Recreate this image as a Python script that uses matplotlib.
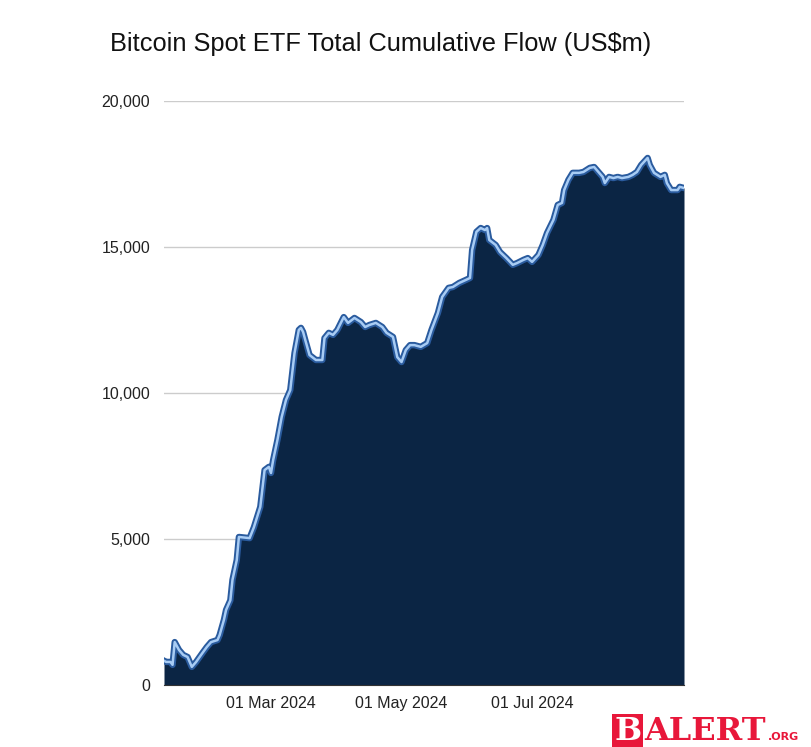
import numpy as np
import pandas as pd
import matplotlib
matplotlib.use("Agg")
import matplotlib.pyplot as plt
import matplotlib.dates as mdates
from matplotlib.ticker import FuncFormatter

plt.rcParams["font.family"] = ["Liberation Sans", "DejaVu Sans"]

# cumulative net flow (US$m)
dates = [
    "01-11", "01-12", "01-14", "01-15", "01-16", "01-18", "01-20", "01-22",
    "01-24", "01-26", "01-29", "01-31", "02-02", "02-05", "02-06", "02-08",
    "02-09", "02-11", "02-12", "02-14", "02-15", "02-20", "02-22", "02-25",
    "02-27", "02-29", "03-01", "03-02", "03-04", "03-06", "03-08", "03-10",
    "03-12", "03-14", "03-15", "03-16", "03-17", "03-19", "03-22", "03-25",
    "03-26", "03-28", "03-30", "04-01", "04-04", "04-06", "04-09", "04-12",
    "04-14", "04-16", "04-19", "04-22", "04-24", "04-27", "04-29", "05-01",
    "05-03", "05-05", "05-07", "05-10", "05-13", "05-15", "05-18", "05-20",
    "05-23", "05-25", "05-28", "05-31", "06-02", "06-03", "06-05", "06-07",
    "06-09", "06-10", "06-11", "06-14", "06-16", "06-19", "06-22", "06-24",
    "06-27", "06-29", "07-01", "07-04", "07-06", "07-08", "07-11", "07-13",
    "07-15", "07-16", "07-18", "07-20", "07-23", "07-25", "07-28", "07-30",
    "08-01", "08-03", "08-04", "08-06", "08-08", "08-10", "08-12", "08-15",
    "08-17", "08-19", "08-21", "08-24", "08-25", "08-27", "08-30", "09-01",
    "09-02", "09-04", "09-07", "09-08", "09-10",
]
flow = [
    830, 790, 790, 690, 1470, 1200, 1030, 960,
    620, 790, 1100, 1300, 1470, 1540, 1710, 2230,
    2570, 2900, 3600, 4280, 5070, 5030, 5400, 6100,
    7360, 7470, 7260, 7700, 8390, 9180, 9760, 10100,
    11370, 12160, 12230, 12090, 11820, 11300, 11130, 11130,
    11880, 12060, 11990, 12160, 12600, 12400, 12570, 12430,
    12260, 12330, 12400, 12260, 12060, 11920, 11230, 11060,
    11470, 11640, 11640, 11580, 11710, 12160, 12740, 13290,
    13600, 13630, 13770, 13870, 13940, 14900, 15520, 15650,
    15580, 15650, 15240, 15070, 14830, 14620, 14390, 14450,
    14560, 14620, 14490, 14730, 15070, 15480, 15930, 16440,
    16510, 16950, 17300, 17540, 17540, 17570, 17710, 17740,
    17570, 17400, 17190, 17400, 17360, 17400, 17360, 17400,
    17470, 17570, 17810, 18050, 17810, 17540, 17400, 17470,
    17190, 16950, 16950, 17060, 17020,
]
yticks = [0, 5000, 10000, 15000, 20000]

t = pd.to_datetime(["2024-" + d for d in dates])
v = np.array(flow)

navy = "#0b2544"
mid = "#2a5b9e"
light = "#a8ccf4"

fig = plt.figure(figsize=(8.11, 7.47), dpi=100)
ax = fig.add_axes([164/811, 1 - 685/747, 520/811, 584/747])

ax.fill_between(t, v, 0, color=navy, lw=0, zorder=2)
ax.plot(t, v, color=mid, lw=4.6, solid_joinstyle="round", zorder=3)
ax.plot(t, v, color=light, lw=1.8, solid_joinstyle="round", zorder=4)

ax.set_xlim(t[0], t[-1])
ax.set_ylim(0, 20000)
ax.set_yticks(yticks)
ax.yaxis.set_major_formatter(FuncFormatter(lambda y, p: "{:,.0f}".format(y)))
ax.xaxis.set_major_locator(mdates.MonthLocator(bymonth=[3, 5, 7], bymonthday=1))
ax.xaxis.set_major_formatter(mdates.DateFormatter("%d %b %Y"))
ax.grid(axis="y", color="#cccccc", lw=1, zorder=1)
ax.set_axisbelow(True)
ax.tick_params(length=0, labelsize=11.5, colors="#222222")
ax.tick_params(axis="y", pad=10)
ax.tick_params(axis="x", pad=8)
for s in ["left", "right", "top"]:
    ax.spines[s].set_visible(False)
ax.spines["bottom"].set_color("#333333")
ax.spines["bottom"].set_zorder(5)

fig.text(110/811, 1 - 44/747, r"Bitcoin Spot ETF Total Cumulative Flow (US\$m)",
         ha="left", va="center", fontsize=18.3, color="#111111")

# watermark
red = "#e8173a"
fig.text(614/811, 1 - 731/747, "B", ha="left", va="center", fontsize=23,
         fontweight="bold", family="DejaVu Serif", color="white",
         bbox=dict(boxstyle="square,pad=0.06", fc=red, ec="none"))
fig.text(644/811, 1 - 731/747, "ALERT", ha="left", va="center", fontsize=23,
         fontweight="bold", family="DejaVu Serif", color=red)
fig.text(768/811, 1 - 737/747, ".ORG", ha="left", va="center", fontsize=8,
         fontweight="bold", family="DejaVu Sans", color=red)

fig.savefig("out.png", dpi=100)
